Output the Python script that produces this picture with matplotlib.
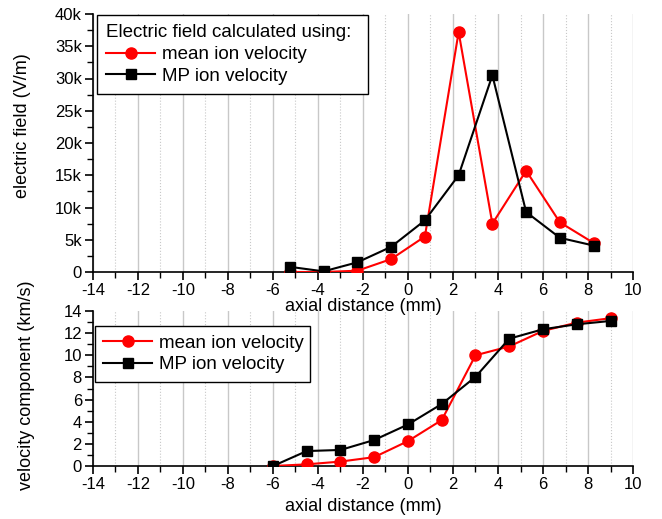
import matplotlib
matplotlib.use("Agg")
import matplotlib.pyplot as plt
from matplotlib.ticker import MultipleLocator, FuncFormatter

plt.rcParams['font.family'] = ['Liberation Sans', 'DejaVu Sans']
plt.rcParams['axes.unicode_minus'] = False

# Top panel: electric field
x_field = [-5.25, -3.75, -2.25, -0.75, 0.75, 2.25, 3.75, 5.25, 6.75, 8.25]
field_mean = [0, 0, 200, 2000, 5500, 37200, 7500, 15700, 7700, 4500]
field_mp = [800, 100, 1500, 3900, 8000, 15000, 30500, 9300, 5300, 4100]

# Bottom panel: velocity component
x_vel = [-6, -4.5, -3, -1.5, 0, 1.5, 3, 4.5, 6, 7.5, 9]
vel_mean = [0, 0.15, 0.4, 0.8, 2.25, 4.15, 10.0, 10.8, 12.2, 12.95, 13.35]
vel_mp = [0, 1.35, 1.45, 2.35, 3.75, 5.6, 8.05, 11.5, 12.35, 12.8, 13.1]

label_mean = "mean ion velocity"
label_mp = "MP ion velocity"
legend_title = "Electric field calculated using:"

W, H = 662, 519
fig = plt.figure(figsize=(W / 100, H / 100), dpi=100)

def frac(l, t, r, b):
    return [l / W, 1 - b / H, (r - l) / W, (b - t) / H]

ax1 = fig.add_axes(frac(93, 14, 633, 272))
ax2 = fig.add_axes(frac(93, 311, 633, 466))
ax2.patch.set_visible(False)

fs_tick = 12
fs_lab = 13
fs_leg = 13.5

def style(ax, lp):
    for s in ['top', 'right']:
        ax.spines[s].set_visible(False)
    for s in ['left', 'bottom']:
        ax.spines[s].set_linewidth(1.2)
    ax.set_xlim(-14, 10)
    ax.xaxis.set_major_locator(MultipleLocator(2))
    ax.xaxis.set_minor_locator(MultipleLocator(1))
    ax.grid(True, which='major', axis='x', color='#c8c8c8', lw=1.0, ls='-')
    ax.grid(True, which='minor', axis='x', color='#c8c8c8', lw=0.8, ls=':')
    ax.set_axisbelow(True)
    ax.tick_params(which='major', direction='out', length=6, width=1.2, labelsize=fs_tick, pad=2)
    ax.tick_params(which='minor', direction='out', length=4, width=1.0)
    ax.set_xlabel("axial distance (mm)", fontsize=fs_lab, labelpad=lp)

style(ax1, 0)
style(ax2, 4)

ax1.plot(x_field, field_mean, color='red', lw=1.5, marker='o', ms=8, label=label_mean, zorder=3)
ax1.plot(x_field, field_mp, color='black', lw=1.5, marker='s', ms=6.5, label=label_mp, zorder=4)
ax1.set_ylim(0, 40000)
ax1.yaxis.set_major_locator(MultipleLocator(5000))
ax1.yaxis.set_minor_locator(MultipleLocator(2500))
ax1.yaxis.set_major_formatter(FuncFormatter(lambda v, p: "0" if v == 0 else f"{int(v/1000)}k"))
ax1.set_ylabel("electric field (V/m)", fontsize=fs_lab)
ax1.yaxis.set_label_coords(-0.115, 0.566)

leg1 = ax1.legend(title=legend_title, loc='upper left',
                  bbox_to_anchor=(4 / 540, 1 - 1 / 258, 271 / 540, 0), mode='expand',
                  fontsize=fs_leg, title_fontsize=fs_leg, fancybox=False, framealpha=1,
                  edgecolor='black', handlelength=2.6, handletextpad=0.35, borderpad=0.5,
                  labelspacing=0.25, borderaxespad=0)
leg1._legend_box.align = "left"
leg1.get_frame().set_linewidth(1.0)

ax2.plot(x_vel, vel_mean, color='red', lw=1.5, marker='o', ms=8, label=label_mean, zorder=3)
ax2.plot(x_vel, vel_mp, color='black', lw=1.5, marker='s', ms=6.5, label=label_mp, zorder=4)
ax2.set_ylim(0, 14)
ax2.yaxis.set_major_locator(MultipleLocator(2))
ax2.yaxis.set_minor_locator(MultipleLocator(1))
ax2.set_ylabel("velocity component (km/s)", fontsize=fs_lab)
ax2.yaxis.set_label_coords(-0.107, 0.523)

leg2 = ax2.legend(loc='upper left',
                  bbox_to_anchor=(2 / 540, 140 / 155, 215 / 540, 0), mode='expand',
                  fontsize=fs_leg, fancybox=False, framealpha=1,
                  edgecolor='black', handlelength=2.6, handletextpad=0.35, borderpad=0.45,
                  labelspacing=0.25, borderaxespad=0)
leg2.get_frame().set_linewidth(1.0)

fig.savefig("out.png", dpi=100)
